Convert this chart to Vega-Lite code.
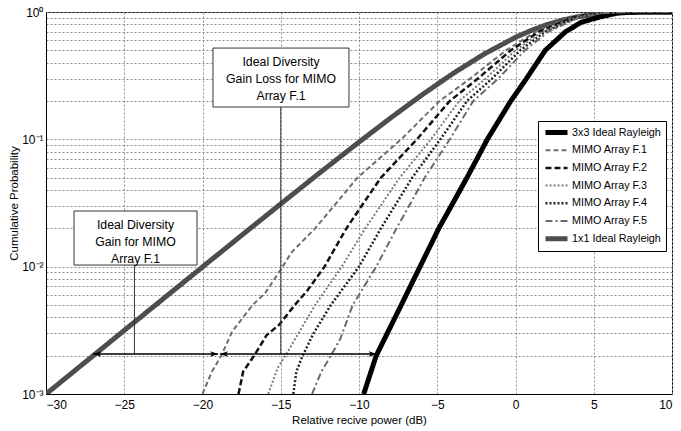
{
  "$schema": "https://vega.github.io/schema/vega-lite/v6.json",
  "width": 626,
  "height": 382,
  "autosize": {"type": "none"},
  "padding": {"left": 46, "top": 12, "right": 9, "bottom": 37},
  "background": "white",
  "config": {
    "view": {"stroke": "black", "strokeWidth": 1},
    "font": "Liberation Sans, Arial",
    "axis": {
      "labelFont": "Liberation Sans, Arial",
      "titleFont": "Liberation Sans, Arial",
      "labelColor": "black",
      "titleColor": "black",
      "labelFontSize": 12,
      "titleFontSize": 11.5,
      "titleFontWeight": "normal",
      "domainColor": "black",
      "ticks": false,
      "grid": true,
      "gridColor": "#8c8c8c",
      "gridDash": [2, 2],
      "gridWidth": 1,
      "gridOpacity": 1
    },
    "legend": {
      "labelFont": "Liberation Sans, Arial",
      "labelFontSize": 10.8,
      "labelColor": "black"
    }
  },
  "datasets": {
    "curves": [
      {"s": "1x1 Ideal Rayleigh", "x": -30, "p": 0.0009995},
      {"s": "1x1 Ideal Rayleigh", "x": -27.5, "p": 0.001776},
      {"s": "1x1 Ideal Rayleigh", "x": -25, "p": 0.003157},
      {"s": "1x1 Ideal Rayleigh", "x": -22.5, "p": 0.005607},
      {"s": "1x1 Ideal Rayleigh", "x": -20, "p": 0.00995},
      {"s": "1x1 Ideal Rayleigh", "x": -17.5, "p": 0.01762},
      {"s": "1x1 Ideal Rayleigh", "x": -15, "p": 0.03113},
      {"s": "1x1 Ideal Rayleigh", "x": -12.5, "p": 0.05468},
      {"s": "1x1 Ideal Rayleigh", "x": -10, "p": 0.09516},
      {"s": "1x1 Ideal Rayleigh", "x": -8, "p": 0.1466},
      {"s": "1x1 Ideal Rayleigh", "x": -6, "p": 0.2222},
      {"s": "1x1 Ideal Rayleigh", "x": -4, "p": 0.3284},
      {"s": "1x1 Ideal Rayleigh", "x": -2, "p": 0.4679},
      {"s": "1x1 Ideal Rayleigh", "x": 0, "p": 0.6321},
      {"s": "1x1 Ideal Rayleigh", "x": 1, "p": 0.716},
      {"s": "1x1 Ideal Rayleigh", "x": 2, "p": 0.795},
      {"s": "1x1 Ideal Rayleigh", "x": 3, "p": 0.864},
      {"s": "1x1 Ideal Rayleigh", "x": 4, "p": 0.919},
      {"s": "1x1 Ideal Rayleigh", "x": 5, "p": 0.9577},
      {"s": "1x1 Ideal Rayleigh", "x": 6, "p": 0.9813},
      {"s": "1x1 Ideal Rayleigh", "x": 7, "p": 0.99334},
      {"s": "1x1 Ideal Rayleigh", "x": 8, "p": 0.99818},
      {"s": "1x1 Ideal Rayleigh", "x": 9, "p": 0.99965},
      {"s": "1x1 Ideal Rayleigh", "x": 10, "p": 0.99995},

      {"s": "3x3 Ideal Rayleigh", "x": -9.7, "p": 0.001},
      {"s": "3x3 Ideal Rayleigh", "x": -8.9, "p": 0.002},
      {"s": "3x3 Ideal Rayleigh", "x": -7.3, "p": 0.005},
      {"s": "3x3 Ideal Rayleigh", "x": -6.1, "p": 0.01},
      {"s": "3x3 Ideal Rayleigh", "x": -4.9, "p": 0.02},
      {"s": "3x3 Ideal Rayleigh", "x": -3.1, "p": 0.05},
      {"s": "3x3 Ideal Rayleigh", "x": -1.8, "p": 0.1},
      {"s": "3x3 Ideal Rayleigh", "x": -0.3, "p": 0.2},
      {"s": "3x3 Ideal Rayleigh", "x": 0.7, "p": 0.3},
      {"s": "3x3 Ideal Rayleigh", "x": 1.9, "p": 0.5},
      {"s": "3x3 Ideal Rayleigh", "x": 3.2, "p": 0.7},
      {"s": "3x3 Ideal Rayleigh", "x": 4.2, "p": 0.83},
      {"s": "3x3 Ideal Rayleigh", "x": 5.4, "p": 0.915},
      {"s": "3x3 Ideal Rayleigh", "x": 6.5, "p": 0.98},
      {"s": "3x3 Ideal Rayleigh", "x": 7.5, "p": 0.997},
      {"s": "3x3 Ideal Rayleigh", "x": 8.5, "p": 0.9997},
      {"s": "3x3 Ideal Rayleigh", "x": 10, "p": 1},

      {"s": "MIMO Array F.1", "x": -20, "p": 0.001},
      {"s": "MIMO Array F.1", "x": -19.4, "p": 0.0015},
      {"s": "MIMO Array F.1", "x": -18.8, "p": 0.002},
      {"s": "MIMO Array F.1", "x": -18.1, "p": 0.0031},
      {"s": "MIMO Array F.1", "x": -16.8, "p": 0.005},
      {"s": "MIMO Array F.1", "x": -16.0, "p": 0.0062},
      {"s": "MIMO Array F.1", "x": -15.0, "p": 0.0095},
      {"s": "MIMO Array F.1", "x": -14.3, "p": 0.013},
      {"s": "MIMO Array F.1", "x": -12.8, "p": 0.02},
      {"s": "MIMO Array F.1", "x": -11.6, "p": 0.03},
      {"s": "MIMO Array F.1", "x": -10.1, "p": 0.05},
      {"s": "MIMO Array F.1", "x": -7.3, "p": 0.1},
      {"s": "MIMO Array F.1", "x": -4.85, "p": 0.2},
      {"s": "MIMO Array F.1", "x": -2.9, "p": 0.3},
      {"s": "MIMO Array F.1", "x": -0.6, "p": 0.5},
      {"s": "MIMO Array F.1", "x": 1.3, "p": 0.7},
      {"s": "MIMO Array F.1", "x": 3.4, "p": 0.9},
      {"s": "MIMO Array F.1", "x": 5, "p": 0.975},
      {"s": "MIMO Array F.1", "x": 6.2, "p": 0.995},
      {"s": "MIMO Array F.1", "x": 7.5, "p": 0.9995},
      {"s": "MIMO Array F.1", "x": 10, "p": 1},

      {"s": "MIMO Array F.2", "x": -17.7, "p": 0.001},
      {"s": "MIMO Array F.2", "x": -17.4, "p": 0.0015},
      {"s": "MIMO Array F.2", "x": -16.7, "p": 0.002},
      {"s": "MIMO Array F.2", "x": -15.9, "p": 0.0029},
      {"s": "MIMO Array F.2", "x": -15.1, "p": 0.0035},
      {"s": "MIMO Array F.2", "x": -14.1, "p": 0.005},
      {"s": "MIMO Array F.2", "x": -13.3, "p": 0.0065},
      {"s": "MIMO Array F.2", "x": -12.2, "p": 0.01},
      {"s": "MIMO Array F.2", "x": -11.2, "p": 0.0165},
      {"s": "MIMO Array F.2", "x": -10.8, "p": 0.02},
      {"s": "MIMO Array F.2", "x": -10.0, "p": 0.028},
      {"s": "MIMO Array F.2", "x": -8.6, "p": 0.05},
      {"s": "MIMO Array F.2", "x": -6.3, "p": 0.1},
      {"s": "MIMO Array F.2", "x": -4.2, "p": 0.2},
      {"s": "MIMO Array F.2", "x": -2.4, "p": 0.3},
      {"s": "MIMO Array F.2", "x": -0.3, "p": 0.5},
      {"s": "MIMO Array F.2", "x": 1.5, "p": 0.7},
      {"s": "MIMO Array F.2", "x": 3.6, "p": 0.9},
      {"s": "MIMO Array F.2", "x": 5.2, "p": 0.978},
      {"s": "MIMO Array F.2", "x": 6.3, "p": 0.995},
      {"s": "MIMO Array F.2", "x": 7.5, "p": 0.9995},
      {"s": "MIMO Array F.2", "x": 10, "p": 1},

      {"s": "MIMO Array F.3", "x": -15.8, "p": 0.001},
      {"s": "MIMO Array F.3", "x": -15.2, "p": 0.0016},
      {"s": "MIMO Array F.3", "x": -14.7, "p": 0.002},
      {"s": "MIMO Array F.3", "x": -13.8, "p": 0.0031},
      {"s": "MIMO Array F.3", "x": -12.8, "p": 0.005},
      {"s": "MIMO Array F.3", "x": -11.1, "p": 0.01},
      {"s": "MIMO Array F.3", "x": -9.6, "p": 0.02},
      {"s": "MIMO Array F.3", "x": -7.4, "p": 0.05},
      {"s": "MIMO Array F.3", "x": -5.4, "p": 0.1},
      {"s": "MIMO Array F.3", "x": -3.6, "p": 0.2},
      {"s": "MIMO Array F.3", "x": -1.9, "p": 0.3},
      {"s": "MIMO Array F.3", "x": 0.0, "p": 0.5},
      {"s": "MIMO Array F.3", "x": 1.7, "p": 0.7},
      {"s": "MIMO Array F.3", "x": 3.8, "p": 0.9},
      {"s": "MIMO Array F.3", "x": 5.3, "p": 0.978},
      {"s": "MIMO Array F.3", "x": 6.4, "p": 0.995},
      {"s": "MIMO Array F.3", "x": 7.6, "p": 0.9995},
      {"s": "MIMO Array F.3", "x": 10, "p": 1},

      {"s": "MIMO Array F.4", "x": -14.2, "p": 0.001},
      {"s": "MIMO Array F.4", "x": -14.0, "p": 0.0015},
      {"s": "MIMO Array F.4", "x": -13.6, "p": 0.002},
      {"s": "MIMO Array F.4", "x": -12.9, "p": 0.003},
      {"s": "MIMO Array F.4", "x": -11.8, "p": 0.005},
      {"s": "MIMO Array F.4", "x": -11.2, "p": 0.0063},
      {"s": "MIMO Array F.4", "x": -10.0, "p": 0.01},
      {"s": "MIMO Array F.4", "x": -8.6, "p": 0.02},
      {"s": "MIMO Array F.4", "x": -6.6, "p": 0.05},
      {"s": "MIMO Array F.4", "x": -4.8, "p": 0.1},
      {"s": "MIMO Array F.4", "x": -3.1, "p": 0.2},
      {"s": "MIMO Array F.4", "x": -1.5, "p": 0.3},
      {"s": "MIMO Array F.4", "x": 0.3, "p": 0.5},
      {"s": "MIMO Array F.4", "x": 1.9, "p": 0.7},
      {"s": "MIMO Array F.4", "x": 3.9, "p": 0.9},
      {"s": "MIMO Array F.4", "x": 5.4, "p": 0.978},
      {"s": "MIMO Array F.4", "x": 6.5, "p": 0.995},
      {"s": "MIMO Array F.4", "x": 7.7, "p": 0.9995},
      {"s": "MIMO Array F.4", "x": 10, "p": 1},

      {"s": "MIMO Array F.5", "x": -13.0, "p": 0.001},
      {"s": "MIMO Array F.5", "x": -12.4, "p": 0.0015},
      {"s": "MIMO Array F.5", "x": -11.8, "p": 0.002},
      {"s": "MIMO Array F.5", "x": -11.2, "p": 0.0027},
      {"s": "MIMO Array F.5", "x": -10.4, "p": 0.005},
      {"s": "MIMO Array F.5", "x": -8.9, "p": 0.01},
      {"s": "MIMO Array F.5", "x": -7.6, "p": 0.02},
      {"s": "MIMO Array F.5", "x": -5.8, "p": 0.05},
      {"s": "MIMO Array F.5", "x": -4.2, "p": 0.1},
      {"s": "MIMO Array F.5", "x": -2.7, "p": 0.2},
      {"s": "MIMO Array F.5", "x": -1.1, "p": 0.3},
      {"s": "MIMO Array F.5", "x": 0.6, "p": 0.5},
      {"s": "MIMO Array F.5", "x": 2.1, "p": 0.7},
      {"s": "MIMO Array F.5", "x": 4.0, "p": 0.9},
      {"s": "MIMO Array F.5", "x": 5.5, "p": 0.978},
      {"s": "MIMO Array F.5", "x": 6.6, "p": 0.995},
      {"s": "MIMO Array F.5", "x": 7.8, "p": 0.9995},
      {"s": "MIMO Array F.5", "x": 10, "p": 1}
    ],
    "boxes": [
      {"x": -28.21, "x2": -20.35, "p": 0.02735, "p2": 0.0103},
      {"x": -19.33, "x2": -10.64, "p": 0.521, "p2": 0.1794}
    ],
    "leaders": [
      {"x": -24.35, "p": 0.0103, "p2": 0.00206},
      {"x": -15.0, "p": 0.1794, "p2": 0.00206}
    ],
    "arrows": [
      {"x": -26.98, "x2": -19.0, "p": 0.00206},
      {"x": -18.88, "x2": -8.87, "p": 0.00206}
    ],
    "heads": [
      {"x": -26.98, "p": 0.00206, "dir": "left"},
      {"x": -19.0, "p": 0.00206, "dir": "right"},
      {"x": -18.88, "p": 0.00206, "dir": "left"},
      {"x": -8.87, "p": 0.00206, "dir": "right"}
    ],
    "notes": [
      {"x": -24.28, "p": 0.0212, "t": ["Ideal Diversity", "Gain for MIMO", "Array F.1"]},
      {"x": -14.98, "p": 0.405, "t": ["Ideal Diversity", "Gain Loss for MIMO", "Array F.1"]}
    ]
  },
  "layer": [
    {
      "data": {"name": "curves"},
      "mark": {"type": "line", "clip": true},
      "encoding": {
        "x": {
          "field": "x", "type": "quantitative",
          "scale": {"domain": [-30, 10], "nice": false, "zero": false},
          "axis": {"values": [-30, -25, -20, -15, -10, -5, 0, 5, 10], "labelPadding": 5, "titlePadding": 4},
          "title": "Relative recive power (dB)"
        },
        "y": {
          "field": "p", "type": "quantitative",
          "scale": {"type": "log", "domain": [0.001, 1], "nice": false},
          "axis": {
            "values": [0.001, 0.002, 0.003, 0.004, 0.005, 0.006, 0.007, 0.008, 0.009, 0.01, 0.02, 0.03, 0.04, 0.05, 0.06, 0.07, 0.08, 0.09, 0.1, 0.2, 0.3, 0.4, 0.5, 0.6, 0.7, 0.8, 0.9, 1],
            "labelExpr": "datum.value > 0.99 ? '10⁰' : abs(datum.value - 0.1) < 1e-9 ? '10⁻¹' : abs(datum.value - 0.01) < 1e-9 ? '10⁻²' : abs(datum.value - 0.001) < 1e-9 ? '10⁻³' : ''",
            "labelPadding": 3,
            "titlePadding": 2
          },
          "title": "Cumulative Probability"
        },
        "color": {
          "field": "s", "type": "nominal",
          "scale": {
            "domain": ["3x3 Ideal Rayleigh", "MIMO Array F.1", "MIMO Array F.2", "MIMO Array F.3", "MIMO Array F.4", "MIMO Array F.5", "1x1 Ideal Rayleigh"],
            "range": ["#000000", "#6e6e6e", "#111111", "#7a7a7a", "#222222", "#6a6a6a", "#4d4d4d"]
          },
          "legend": {
            "title": null, "orient": "none", "legendX": 492, "legendY": 109,
            "strokeColor": "black", "fillColor": "white", "padding": 5,
            "symbolType": "stroke", "symbolSize": 484, "clipHeight": 13, "rowPadding": 4.7,
            "labelOffset": 2, "symbolOpacity": 1
          }
        },
        "strokeDash": {
          "field": "s", "type": "nominal",
          "scale": {
            "domain": ["3x3 Ideal Rayleigh", "MIMO Array F.1", "MIMO Array F.2", "MIMO Array F.3", "MIMO Array F.4", "MIMO Array F.5", "1x1 Ideal Rayleigh"],
            "range": [[1, 0], [5, 3], [6, 3], [2, 2], [2, 2], [7, 3, 2, 3], [1, 0]]
          }
        },
        "strokeWidth": {
          "field": "s", "type": "nominal",
          "scale": {
            "type": "ordinal",
            "domain": ["3x3 Ideal Rayleigh", "MIMO Array F.1", "MIMO Array F.2", "MIMO Array F.3", "MIMO Array F.4", "MIMO Array F.5", "1x1 Ideal Rayleigh"],
            "range": [5, 2, 2.5, 2, 2.5, 2, 5]
          }
        },
        "order": {"field": "x", "type": "quantitative"}
      }
    },
    {
      "data": {"name": "leaders"},
      "mark": {"type": "rule", "color": "#333333", "strokeWidth": 1},
      "encoding": {
        "x": {"field": "x", "type": "quantitative", "title": "Relative recive power (dB)"},
        "y": {"field": "p", "type": "quantitative", "title": "Cumulative Probability"},
        "y2": {"field": "p2"}
      }
    },
    {
      "data": {"name": "boxes"},
      "mark": {"type": "rect", "fill": "white", "stroke": "#333333", "strokeWidth": 1},
      "encoding": {
        "x": {"field": "x", "type": "quantitative", "title": "Relative recive power (dB)"},
        "x2": {"field": "x2"},
        "y": {"field": "p", "type": "quantitative", "title": "Cumulative Probability"},
        "y2": {"field": "p2"}
      }
    },
    {
      "data": {"name": "arrows"},
      "mark": {"type": "rule", "color": "black", "strokeWidth": 1.5},
      "encoding": {
        "x": {"field": "x", "type": "quantitative", "title": "Relative recive power (dB)"},
        "x2": {"field": "x2"},
        "y": {"field": "p", "type": "quantitative", "title": "Cumulative Probability"}
      }
    },
    {
      "data": {"name": "heads"},
      "mark": {"type": "point", "filled": true, "color": "black", "opacity": 1, "size": 256},
      "encoding": {
        "x": {"field": "x", "type": "quantitative", "title": "Relative recive power (dB)"},
        "y": {"field": "p", "type": "quantitative", "title": "Cumulative Probability"},
        "shape": {
          "field": "dir", "type": "nominal", "legend": null,
          "scale": {"domain": ["left", "right"], "range": ["M0,0L1,-0.35L0.75,0L1,0.35Z", "M0,0L-1,-0.35L-0.75,0L-1,0.35Z"]}
        }
      }
    },
    {
      "data": {"name": "notes"},
      "mark": {"type": "text", "fontSize": 12.3, "lineHeight": 17, "align": "center", "baseline": "middle", "color": "black", "font": "Liberation Sans, Arial"},
      "encoding": {
        "x": {"field": "x", "type": "quantitative", "title": "Relative recive power (dB)"},
        "y": {"field": "p", "type": "quantitative", "title": "Cumulative Probability"},
        "text": {"field": "t"}
      }
    }
  ]
}
